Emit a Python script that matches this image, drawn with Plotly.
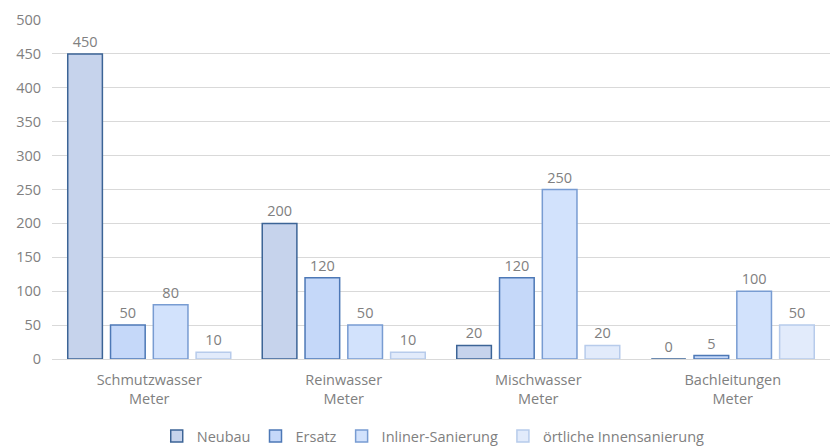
import plotly.graph_objects as go

categories = ["Schmutzwasser<br>Meter", "Reinwasser<br>Meter", "Mischwasser<br>Meter", "Bachleitungen<br>Meter"]
series_names = ["Neubau", "Ersatz", "Inliner-Sanierung", "örtliche Innensanierung"]
neubau = [450, 200, 20, 0]
ersatz = [50, 120, 120, 5]
inliner = [80, 50, 250, 100]
oertlich = [10, 10, 20, 50]
y_ticks = [0, 50, 100, 150, 200, 250, 300, 350, 400, 450, 500]

series_values = [neubau, ersatz, inliner, oertlich]
fills = ["#c6d3ec", "#c5d8f9", "#d2e2fc", "#e2ebfb"]
borders = ["#3c6496", "#4d78b6", "#789cd2", "#b7cbeb"]

FONT = "Open Sans, sans-serif"
GRAY = "#808080"
FS = 14.5

fig = go.Figure()
for name, vals, f, b in zip(series_names, series_values, fills, borders):
    fig.add_trace(go.Bar(
        name=name, x=categories, y=vals,
        marker=dict(color=f, line=dict(color=b, width=1.5)),
        text=[str(v) for v in vals], textposition="outside",
        textfont=dict(family=FONT, size=FS, color=GRAY),
        cliponaxis=False,
    ))

fig.update_layout(
    width=832, height=446,
    margin=dict(l=52, r=2, t=20, b=87, autoexpand=False),
    paper_bgcolor="white", plot_bgcolor="white",
    barmode="group", bargap=0.12, bargroupgap=0.19,
    font=dict(family=FONT, size=FS, color=GRAY),
    legend=dict(orientation="h", x=0.49, xanchor="center", y=-0.18, yanchor="top",
                font=dict(family=FONT, size=FS, color=GRAY), itemwidth=30,
                traceorder="normal"),
    showlegend=True,
)
fig.update_yaxes(range=[0, 500], tickvals=y_ticks, showgrid=True, gridcolor="#d9d9d9",
                 gridwidth=1, zeroline=False, showline=False, ticks="",
                 ticklabelstandoff=10, automargin=False,
                 tickfont=dict(family=FONT, size=FS, color=GRAY))
fig.update_xaxes(showline=True, linecolor="#d9d9d9", linewidth=1, ticks="",
                 ticklabelstandoff=8, automargin=False,
                 tickfont=dict(family=FONT, size=FS, color=GRAY))

fig.write_html("out.html", config={"displayModeBar": False},
               post_script="document.body.style.margin='0';document.body.style.overflow='hidden';")
